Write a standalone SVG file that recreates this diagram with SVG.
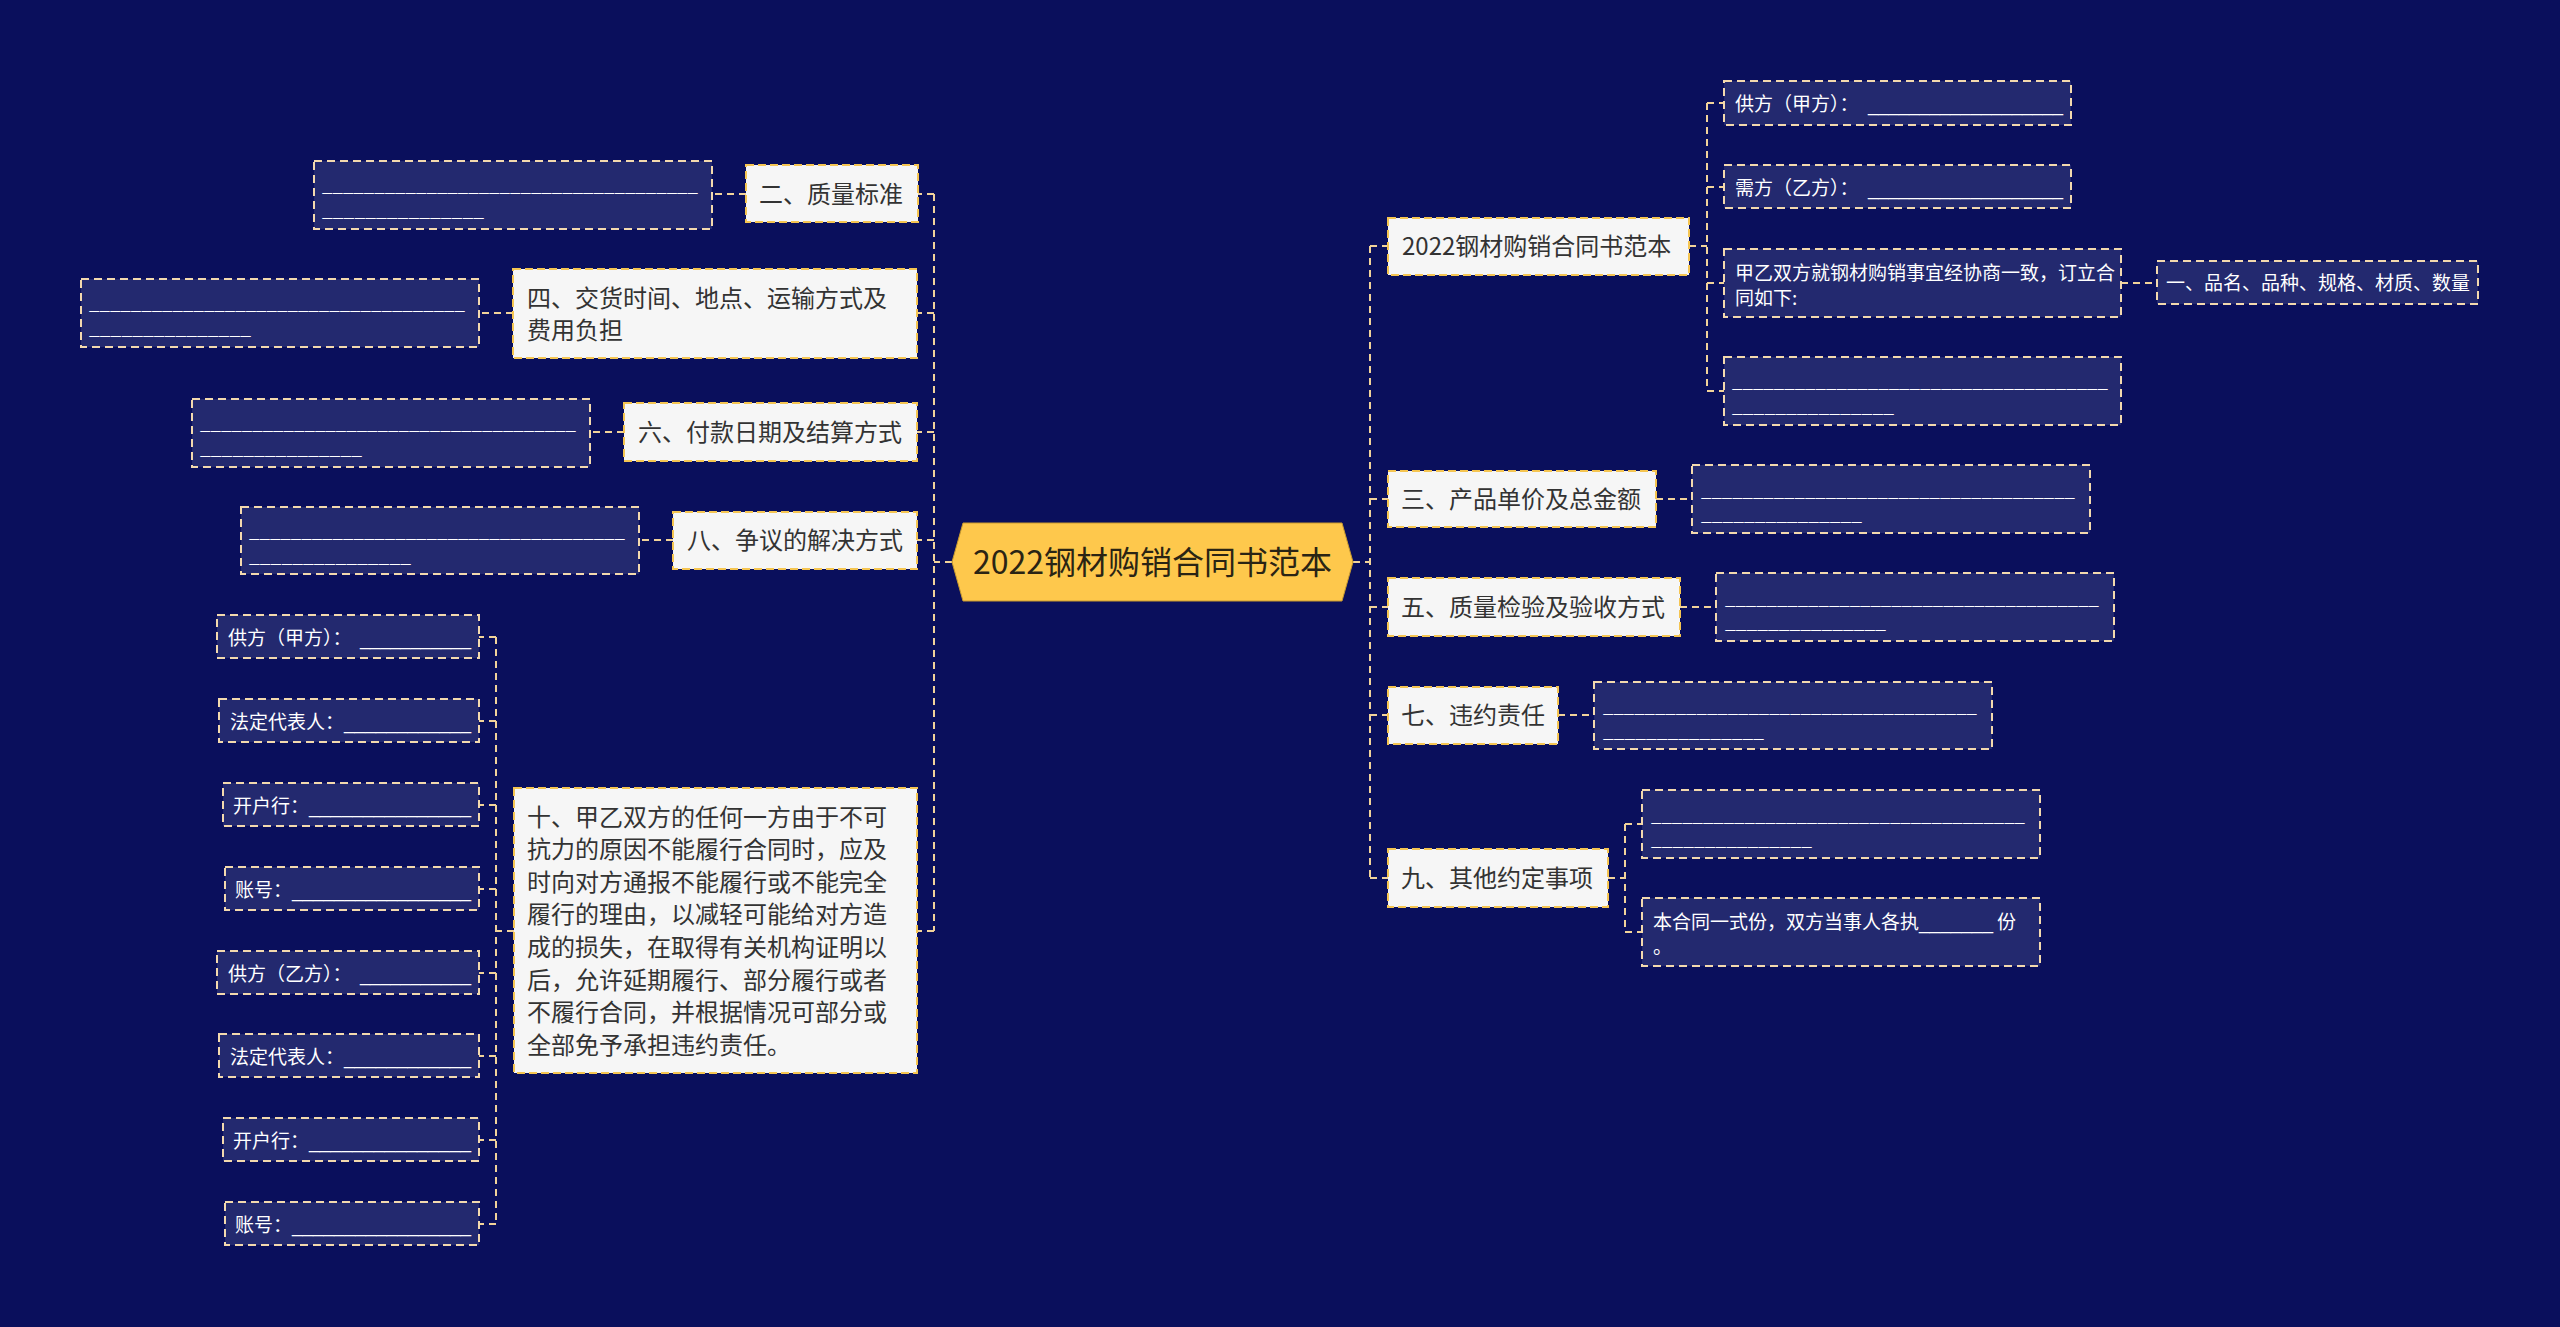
<svg xmlns="http://www.w3.org/2000/svg" width="2560" height="1327" viewBox="0 0 2560 1327">
<style>
.bg{fill:#0A0F5C}
.conn path{fill:none;stroke:#F1D29A;stroke-width:2;stroke-dasharray:7 5}
.l1 rect{fill:#F6F6F6;stroke:#F5C552;stroke-width:2;stroke-dasharray:8 4}
.l1 text{font-family:"Noto Sans CJK SC","Noto Sans",sans-serif;font-size:24px;fill:#333333}
.leaf rect{fill:#23296F;stroke:#F3D9AE;stroke-width:2;stroke-dasharray:8 5}
.leaf text{font-family:"Noto Sans CJK SC","Noto Sans",sans-serif;font-size:19px;fill:#FFFFFF}
.us{font-family:"Liberation Sans",sans-serif}
.root polygon{fill:#FEC84C;stroke:#C99A2E;stroke-width:1}
.root text{font-family:"Noto Sans CJK SC","Noto Sans",sans-serif;font-size:32px;fill:#2A2414}
</style>
<rect class="bg" x="0" y="0" width="2560" height="1327"/>

<g id="connectors" class="conn">
<path d="M952,562 H934"/>
<path d="M934,194 V931"/>
<path d="M934,194 H918"/>
<path d="M934,313 H917"/>
<path d="M934,432 H917"/>
<path d="M934,540 H917"/>
<path d="M934,931 H917"/>
<path d="M746,194 H712"/>
<path d="M513,313 H479"/>
<path d="M624,432 H590"/>
<path d="M673,540 H638"/>
<path d="M514,931 H496"/>
<path d="M496,637 V1224"/>
<path d="M496,637 H479"/>
<path d="M496,721 H479"/>
<path d="M496,805 H479"/>
<path d="M496,889 H479"/>
<path d="M496,973 H479"/>
<path d="M496,1056 H479"/>
<path d="M496,1140 H479"/>
<path d="M496,1224 H479"/>
<path d="M1353,562 H1370"/>
<path d="M1370,246 V878"/>
<path d="M1370,246 H1388"/>
<path d="M1370,499 H1388"/>
<path d="M1370,607 H1388"/>
<path d="M1370,715 H1388"/>
<path d="M1370,878 H1388"/>
<path d="M1689,246 H1707"/>
<path d="M1707,103 V391"/>
<path d="M1707,103 H1724"/>
<path d="M1707,187 H1724"/>
<path d="M1707,283 H1724"/>
<path d="M1707,391 H1724"/>
<path d="M2121,283 H2157"/>
<path d="M1656,499 H1692"/>
<path d="M1680,607 H1716"/>
<path d="M1558,715 H1594"/>
<path d="M1608,878 H1625"/>
<path d="M1625,824 V932"/>
<path d="M1625,824 H1642"/>
<path d="M1625,932 H1642"/>
</g>

<g id="root" class="root">
<polygon points="952,562 963,523 1342,523 1353,562 1342,601 963,601"/>
<text x="1152.5" y="574" text-anchor="middle">2022钢材购销合同书范本</text>
</g>

<!-- Left level-1 -->
<g id="n-er" class="l1"><rect x="746" y="165" width="172" height="57"/><text x="759" y="202.5">二、质量标准</text></g>
<g id="n-si" class="l1"><rect x="513" y="269" width="404" height="89"/><text x="527" y="307">四、交货时间、地点、运输方式及</text><text x="527" y="339">费用负担</text></g>
<g id="n-liu" class="l1"><rect x="624" y="403" width="293" height="58"/><text x="638" y="441">六、付款日期及结算方式</text></g>
<g id="n-ba" class="l1"><rect x="673" y="512" width="244" height="57"/><text x="687" y="549">八、争议的解决方式</text></g>
<g id="n-shi" class="l1"><rect x="514" y="788" width="403" height="285"/>
<text x="527" y="825.5">十、甲乙双方的任何一方由于不可</text>
<text x="527" y="858.1">抗力的原因不能履行合同时，应及</text>
<text x="527" y="890.7">时向对方通报不能履行或不能完全</text>
<text x="527" y="923.3">履行的理由，以减轻可能给对方造</text>
<text x="527" y="955.9">成的损失，在取得有关机构证明以</text>
<text x="527" y="988.5">后，允许延期履行、部分履行或者</text>
<text x="527" y="1021.1">不履行合同，并根据情况可部分或</text>
<text x="527" y="1053.7">全部免予承担违约责任。</text>
</g>

<!-- Left blanks -->
<g id="b-er" class="leaf"><rect x="314" y="161" width="398" height="68"/><text class="us" x="322" y="191" textLength="376" lengthAdjust="spacingAndGlyphs">____________________________________</text><text class="us" x="322" y="215.5" textLength="162" lengthAdjust="spacingAndGlyphs">_______________</text></g>
<g id="b-si" class="leaf"><rect x="81" y="279" width="398" height="68"/><text class="us" x="89" y="309" textLength="376" lengthAdjust="spacingAndGlyphs">____________________________________</text><text class="us" x="89" y="333.5" textLength="162" lengthAdjust="spacingAndGlyphs">_______________</text></g>
<g id="b-liu" class="leaf"><rect x="192" y="399" width="398" height="68"/><text class="us" x="200" y="429" textLength="376" lengthAdjust="spacingAndGlyphs">____________________________________</text><text class="us" x="200" y="453.5" textLength="162" lengthAdjust="spacingAndGlyphs">_______________</text></g>
<g id="b-ba" class="leaf"><rect x="241" y="507" width="398" height="67"/><text class="us" x="249" y="537" textLength="376" lengthAdjust="spacingAndGlyphs">____________________________________</text><text class="us" x="249" y="561.5" textLength="162" lengthAdjust="spacingAndGlyphs">_______________</text></g>

<!-- Left small leaves -->
<g id="s1" class="leaf"><rect x="217" y="615" width="262" height="43"/><text x="228" y="645">供方（甲方）：<tspan class="us" x="360" textLength="111" lengthAdjust="spacingAndGlyphs">___________</tspan></text></g>
<g id="s2" class="leaf"><rect x="219" y="699" width="260" height="43"/><text x="230" y="729">法定代表人：<tspan class="us" x="344" textLength="127" lengthAdjust="spacingAndGlyphs">____________</tspan></text></g>
<g id="s3" class="leaf"><rect x="223" y="783" width="256" height="43"/><text x="233" y="813">开户行：<tspan class="us" x="309" textLength="162" lengthAdjust="spacingAndGlyphs">_______________</tspan></text></g>
<g id="s4" class="leaf"><rect x="225" y="867" width="254" height="43"/><text x="235" y="897">账号：<tspan class="us" x="292" textLength="179" lengthAdjust="spacingAndGlyphs">_________________</tspan></text></g>
<g id="s5" class="leaf"><rect x="217" y="951" width="262" height="43"/><text x="228" y="981">供方（乙方）：<tspan class="us" x="360" textLength="111" lengthAdjust="spacingAndGlyphs">___________</tspan></text></g>
<g id="s6" class="leaf"><rect x="219" y="1034" width="260" height="43"/><text x="230" y="1064">法定代表人：<tspan class="us" x="344" textLength="127" lengthAdjust="spacingAndGlyphs">____________</tspan></text></g>
<g id="s7" class="leaf"><rect x="223" y="1118" width="256" height="43"/><text x="233" y="1148">开户行：<tspan class="us" x="309" textLength="162" lengthAdjust="spacingAndGlyphs">_______________</tspan></text></g>
<g id="s8" class="leaf"><rect x="225" y="1202" width="254" height="43"/><text x="235" y="1232">账号：<tspan class="us" x="292" textLength="179" lengthAdjust="spacingAndGlyphs">_________________</tspan></text></g>

<!-- Right level-1 -->
<g id="n-title" class="l1"><rect x="1388" y="218" width="301" height="57"/><text x="1402" y="255">2022钢材购销合同书范本</text></g>
<g id="n-san" class="l1"><rect x="1388" y="471" width="268" height="56"/><text x="1401" y="508">三、产品单价及总金额</text></g>
<g id="n-wu" class="l1"><rect x="1388" y="578" width="292" height="58"/><text x="1401" y="616">五、质量检验及验收方式</text></g>
<g id="n-qi" class="l1"><rect x="1388" y="687" width="170" height="57"/><text x="1401" y="724">七、违约责任</text></g>
<g id="n-jiu" class="l1"><rect x="1388" y="849" width="220" height="58"/><text x="1401" y="887">九、其他约定事项</text></g>

<!-- Right leaves -->
<g id="r-gf" class="leaf"><rect x="1724" y="81" width="347" height="44"/><text x="1735" y="111">供方（甲方）：<tspan class="us" x="1868" textLength="195" lengthAdjust="spacingAndGlyphs">___________________</tspan></text></g>
<g id="r-xf" class="leaf"><rect x="1724" y="165" width="347" height="43"/><text x="1735" y="195">需方（乙方）：<tspan class="us" x="1868" textLength="195" lengthAdjust="spacingAndGlyphs">___________________</tspan></text></g>
<g id="r-jy" class="leaf"><rect x="1724" y="249" width="397" height="68"/><text x="1735" y="280">甲乙双方就钢材购销事宜经协商一致，订立合</text><text x="1735" y="305">同如下:</text></g>
<g id="r-pm" class="leaf"><rect x="2157" y="261" width="321" height="43"/><text x="2166" y="289.5">一、品名、品种、规格、材质、数量</text></g>
<g id="r-b1" class="leaf"><rect x="1724" y="357" width="397" height="68"/><text class="us" x="1732" y="387" textLength="376" lengthAdjust="spacingAndGlyphs">____________________________________</text><text class="us" x="1732" y="411.5" textLength="162" lengthAdjust="spacingAndGlyphs">_______________</text></g>
<g id="r-b2" class="leaf"><rect x="1692" y="465" width="398" height="68"/><text class="us" x="1701" y="496" textLength="374" lengthAdjust="spacingAndGlyphs">____________________________________</text><text class="us" x="1701" y="520" textLength="161" lengthAdjust="spacingAndGlyphs">_______________</text></g>
<g id="r-b3" class="leaf"><rect x="1716" y="573" width="398" height="68"/><text class="us" x="1725" y="604" textLength="374" lengthAdjust="spacingAndGlyphs">____________________________________</text><text class="us" x="1725" y="628" textLength="161" lengthAdjust="spacingAndGlyphs">_______________</text></g>
<g id="r-b4" class="leaf"><rect x="1594" y="682" width="398" height="67"/><text class="us" x="1603" y="712" textLength="374" lengthAdjust="spacingAndGlyphs">____________________________________</text><text class="us" x="1603" y="736.5" textLength="161" lengthAdjust="spacingAndGlyphs">_______________</text></g>
<g id="r-b5" class="leaf"><rect x="1642" y="790" width="398" height="68"/><text class="us" x="1651" y="821" textLength="374" lengthAdjust="spacingAndGlyphs">____________________________________</text><text class="us" x="1651" y="845" textLength="161" lengthAdjust="spacingAndGlyphs">_______________</text></g>
<g id="r-bh" class="leaf"><rect x="1642" y="898" width="398" height="68"/><text x="1653" y="929">本合同一式份，双方当事人各执<tspan class="us" x="1919">_______</tspan><tspan x="1997">份</tspan><tspan x="1653" y="954">。</tspan></text></g>
</svg>
